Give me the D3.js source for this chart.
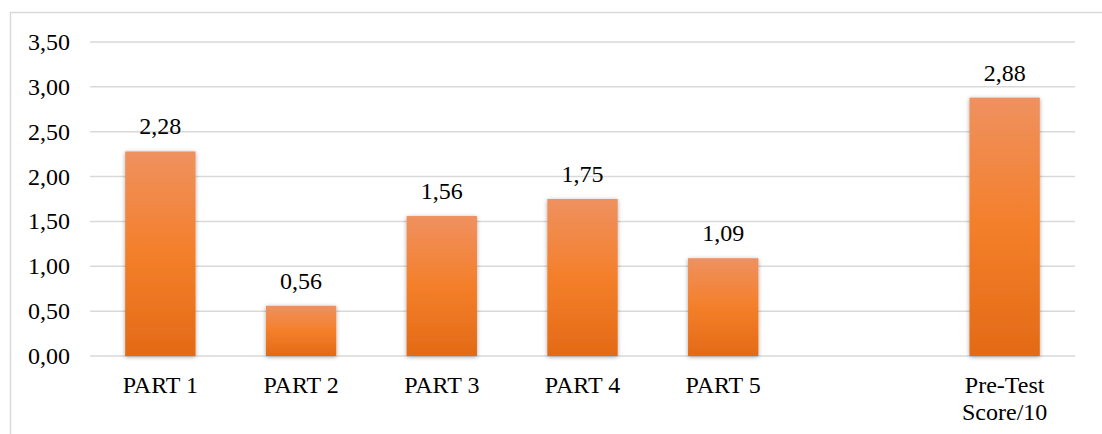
<!DOCTYPE html>
<html>
    <head>
        <style>
            body {
                margin: 0;
                background: #fff;
            }
            .grid line {
                stroke: #d9d9d9;
                stroke-width: 1.5px;
            }
            text.label {
                font-family: 'Liberation Serif', 'Times New Roman', Times, serif;
                font-size: 24px;
                fill: #000;
            }
        </style>
    </head>
    <body>
        <script src='https://d3js.org/d3.v7.min.js'></script>
        <script>
            const categories = ['PART 1', 'PART 2', 'PART 3', 'PART 4', 'PART 5', '', 'Pre-Test Score/10'];
            const values = [2.28, 0.56, 1.56, 1.75, 1.09, null, 2.88];
            const yTicks = [0, 0.5, 1, 1.5, 2, 2.5, 3, 3.5];

            const width = 1102,
                height = 434,
                margin = {top: 42, right: 27, bottom: 78, left: 90};

            const locale = d3.formatLocale({decimal: ',', thousands: '.', grouping: [3], currency: ['', '']});
            const fmt = locale.format('.2f');

            const svg = d3.select('body').append('svg')
                .attr('width', width)
                .attr('height', height);

            // chart area border
            svg.append('rect')
                .attr('x', 10.5).attr('y', 12.5)
                .attr('width', width).attr('height', height)
                .attr('fill', 'none')
                .attr('stroke', '#d9d9d9')
                .attr('stroke-width', 1.5);

            const defs = svg.append('defs');
            const grad = defs.append('linearGradient')
                .attr('id', 'barFill')
                .attr('x1', 0).attr('y1', 0).attr('x2', 0).attr('y2', 1);
            grad.append('stop').attr('offset', '0%').attr('stop-color', '#ef9160');
            grad.append('stop').attr('offset', '50%').attr('stop-color', '#f47f2a');
            grad.append('stop').attr('offset', '100%').attr('stop-color', '#e36a16');

            const shadow = defs.append('filter')
                .attr('id', 'shadow')
                .attr('x', '-20%').attr('y', '-20%')
                .attr('width', '140%').attr('height', '140%');
            shadow.append('feDropShadow')
                .attr('dx', 0).attr('dy', 1)
                .attr('stdDeviation', 2)
                .attr('flood-color', '#000')
                .attr('flood-opacity', 0.35);

            const x = d3.scaleBand()
                .domain(d3.range(categories.length))
                .range([margin.left, width - margin.right])
                .paddingInner(0.5)
                .paddingOuter(0.25);

            const y = d3.scaleLinear()
                .domain([0, 3.5])
                .range([height - margin.bottom, margin.top]);

            // gridlines
            svg.append('g').attr('class', 'grid')
                .selectAll('line')
                .data(yTicks)
                .join('line')
                .attr('x1', margin.left)
                .attr('x2', width - margin.right)
                .attr('y1', d => y(d))
                .attr('y2', d => y(d));

            // y tick labels
            svg.append('g')
                .selectAll('text')
                .data(yTicks)
                .join('text')
                .attr('class', 'label')
                .attr('x', 70)
                .attr('y', d => y(d) + 8)
                .attr('text-anchor', 'end')
                .text(d => fmt(d));

            const data = values.map((v, i) => ({i, v})).filter(d => d.v != null);

            // bars
            svg.append('g')
                .selectAll('rect')
                .data(data)
                .join('rect')
                .attr('x', d => x(d.i))
                .attr('y', d => y(d.v))
                .attr('width', x.bandwidth())
                .attr('height', d => y(0) - y(d.v))
                .attr('fill', 'url(#barFill)')
                .attr('filter', 'url(#shadow)');

            // value labels
            svg.append('g')
                .selectAll('text')
                .data(data)
                .join('text')
                .attr('class', 'label')
                .attr('x', d => x(d.i) + x.bandwidth() / 2)
                .attr('y', d => y(d.v) - 17)
                .attr('text-anchor', 'middle')
                .text(d => fmt(d.v));

            // category labels (wrap long ones)
            const cat = svg.append('g')
                .selectAll('text')
                .data(categories.map((c, i) => ({c, i})))
                .join('text')
                .attr('class', 'label')
                .attr('text-anchor', 'middle')
                .attr('x', d => x(d.i) + x.bandwidth() / 2)
                .attr('y', 393);

            cat.each(function(d) {
                const lines = d.c.length > 10 ? d.c.split(' ') : [d.c];
                d3.select(this).selectAll('tspan')
                    .data(lines)
                    .join('tspan')
                    .attr('x', x(d.i) + x.bandwidth() / 2)
                    .attr('dy', (_, j) => j === 0 ? 0 : 27)
                    .text(t => t);
            });
        </script>
    </body>
</html>
